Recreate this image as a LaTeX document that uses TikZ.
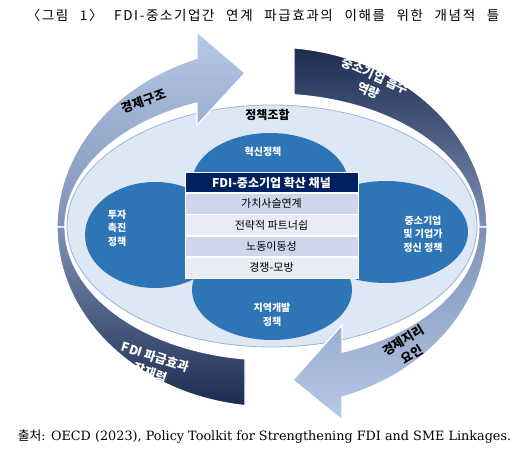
\documentclass[tikz,border=0pt]{standalone}
\usepackage{fontspec}
\setmainfont{Noto Sans CJK KR}
\newfontfamily\krfont{Noto Sans CJK KR}
\newfontfamily\titlefont[LetterSpace=12, WordSpace=2.5]{Noto Sans CJK KR}
\newfontfamily\capfont{DejaVu Serif}
\usetikzlibrary{positioning}

\definecolor{ringlight}{HTML}{B7C8E8}
\definecolor{ringgray}{HTML}{7F92B6}
\definecolor{ringnavy}{HTML}{1D2B50}
\definecolor{mixfill}{HTML}{DEE8F5}
\definecolor{mixline}{HTML}{9DB3D6}
\definecolor{policyblue}{HTML}{2E75B6}
\definecolor{headnavy}{HTML}{002060}
\definecolor{rowdark}{HTML}{CFD5EA}
\definecolor{rowlight}{HTML}{E9EBF5}

\begin{document}
\begin{tikzpicture}[x=1pt, y=1pt,
  ringpart/.style={draw=white, line width=1.2pt},
  policytext/.style={text=white, font=\fontsize{10}{13.5}\selectfont\bfseries, align=center},
  ringtext/.style={font=\fontsize{12.5}{16.5}\selectfont\bfseries, align=center},
  rowcell/.style={draw=white, line width=0.8pt, minimum width=173pt, minimum height=20.5pt,
    inner sep=0pt, font=\fontsize{11}{12}\selectfont}]
  \useasboundingbox (0,0) rectangle (526,457);

  % policy mix area
  \draw[mixline, fill=mixfill, line width=0.8pt] (272,231) ellipse [x radius=205, y radius=121];
  \fill[policyblue] (270,274) ellipse [x radius=78, y radius=50];
  \fill[policyblue] (155,222) ellipse [x radius=70, y radius=53];
  \fill[policyblue] (386,225) ellipse [x radius=82, y radius=51];
  \fill[policyblue] (272,167) ellipse [x radius=80, y radius=50];

  \node[font=\fontsize{12}{14}\selectfont\bfseries] (mix) at (267.5,342) {정책조합};
  \node[policytext] (innov) at (263,305) {혁신정책};
  \node[policytext] (invest) at (117,229) {투자\\촉진\\정책};
  \node[policytext] (sme) at (423,223) {중소기업\\및 기업가\\정신 정책};
  \node[policytext] (region) at (272,142) {지역개발\\정책};

  % channels table
  \node[rowcell, fill=headnavy, text=white, font=\fontsize{12}{14}\selectfont\bfseries] (channel) at (271.5,274.5) {FDI-중소기업 확산 채널};
  \node[rowcell, fill=rowdark, below=0pt of channel] (chain) {가치사슬연계};
  \node[rowcell, fill=rowlight, below=0pt of chain] (partner) {전략적 파트너쉽};
  \node[rowcell, fill=rowdark, below=0pt of partner] (labour) {노동이동성};
  \node[rowcell, fill=rowlight, below=0pt of labour] (compete) {경쟁-모방};

  % outer ring: centre (272,230), outer 215/180, inner 207/133
  \path[ringpart, top color=ringlight, bottom color=ringgray]
    (57,230) arc[start angle=180, end angle=110.4, x radius=215, y radius=180]
    -- (197,425) -- (245,384) -- (197,332) -- (197,354)
    arc[start angle=111.2, end angle=180, x radius=207, y radius=133] -- cycle;
  \path[ringpart, top color=ringnavy, bottom color=ringgray]
    (294,409.1) arc[start angle=84.1, end angle=0, x radius=215, y radius=180]
    -- (479,230) arc[start angle=0, end angle=83.9, x radius=207, y radius=133] -- cycle;
  \path[ringpart, top color=ringgray, bottom color=ringlight]
    (487,230) arc[start angle=0, end angle=-71, x radius=215, y radius=180]
    -- (342,37) -- (293,77) -- (342,132) -- (342,104.9)
    arc[start angle=-70.2, end angle=0, x radius=207, y radius=133] -- cycle;
  \path[ringpart, top color=ringgray, bottom color=ringnavy]
    (57,230) arc[start angle=180, end angle=262.8, x radius=215, y radius=180]
    -- (245,98.1) arc[start angle=262.5, end angle=180, x radius=207, y radius=133] -- cycle;

  \node[ringtext, rotate=20] (structure) at (144,356) {경제구조};
  \node[ringtext, text=white, rotate=-24] (absorb) at (372,374) {중소기업 흡수\\역량};
  \node[ringtext, rotate=31] (geo) at (407.5,109.5) {경제지리\\요인};
  \node[ringtext, text=white, rotate=-18] (spill) at (153,92) {FDI 파급효과\\잠재력};

  \node[font=\titlefont\fontsize{13.5}{15}\selectfont] (title) at (263,442) {〈그림 1〉 FDI-중소기업간 연계 파급효과의 이해를 위한 개념적 틀};
  \node[font=\capfont\fontsize{12.8}{14}\selectfont] (source) at (264.5,20) {{\krfont 출처}: OECD (2023), Policy Toolkit for Strengthening FDI and SME Linkages.};
\end{tikzpicture}
\end{document}
